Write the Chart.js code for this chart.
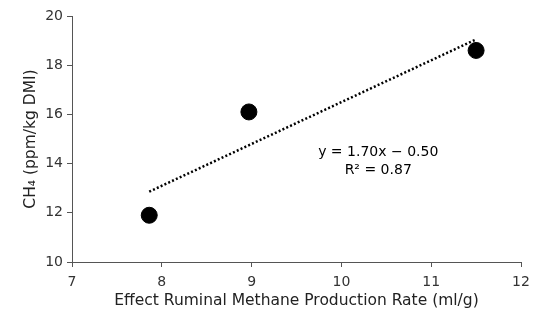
<!DOCTYPE html>
<html><head><meta charset="utf-8">
<script src="https://cdn.jsdelivr.net/npm/chart.js@4/dist/chart.umd.min.js"></script>
<style>html,body{margin:0;padding:0;background:#fff}#wrap{width:550px;height:330px}</style>
</head><body><div id="wrap"><canvas id="c" width="550" height="330"></canvas></div>
<script>
const rateX = [7.86, 8.97, 11.5];
const ch4Y = [11.9, 16.1, 18.6];
const trendX = [7.86, 11.5];
const trendY = [12.86, 19.05];
const xTicks = [7, 8, 9, 10, 11, 12];
const yTicks = [10, 12, 14, 16, 18, 20];
const eqLines = ['y = 1.70x \u2212 0.50', 'R\u00B2 = 0.87'];
const eqAnchor = [10.41, 14.47];

const FONT = 'DejaVu Sans, Verdana, sans-serif';
const eqPlugin = {
  id: 'eq',
  afterDatasetsDraw(chart) {
    const {ctx, scales:{x, y}} = chart;
    const px = x.getPixelForValue(eqAnchor[0]);
    const py = y.getPixelForValue(eqAnchor[1]);
    ctx.save();
    ctx.font = '14px ' + FONT;
    ctx.fillStyle = '#000';
    ctx.textAlign = 'center';
    ctx.textBaseline = 'middle';
    eqLines.forEach((t, i) => ctx.fillText(t, px, py + i * 18));
    ctx.restore();
  }
};

new Chart(document.getElementById('c'), {
  type: 'scatter',
  data: {
    datasets: [
      {
        data: rateX.map((v, i) => ({x: v, y: ch4Y[i]})),
        backgroundColor: '#000', borderColor: '#000',
        pointRadius: 8, pointHoverRadius: 8, order: 1
      },
      {
        type: 'line',
        data: trendX.map((v, i) => ({x: v, y: trendY[i]})),
        borderColor: '#000', borderWidth: 2.5, borderDash: [2, 2.2],
        pointRadius: 0, fill: false, order: 2
      }
    ]
  },
  plugins: [eqPlugin],
  options: {
    responsive: false, animation: false,
    layout: {padding: {top: 16, right: 29, left: 22, bottom: 20}},
    plugins: {legend: {display: false}, tooltip: {enabled: false}},
    scales: {
      x: {
        type: 'linear', min: 7, max: 12,
        afterBuildTicks: s => { s.ticks = xTicks.map(v => ({value: v})); },
        afterFit: s => { s.height = 48; },
        border: {color: '#555', width: 1},
        grid: {drawOnChartArea: false, drawTicks: true, tickLength: 5, color: '#555'},
        ticks: {color: '#333', font: {family: FONT, size: 14}, padding: 7, maxRotation: 0},
        title: {display: true, text: 'Effect Ruminal Methane Production Rate (ml/g)', color: '#222',
          font: {family: FONT, size: 15.5}, padding: {top: 0, bottom: 0}}
      },
      y: {
        type: 'linear', min: 10, max: 20,
        afterBuildTicks: s => { s.ticks = yTicks.map(v => ({value: v})); },
        afterFit: s => { s.width = 50; },
        border: {color: '#555', width: 1},
        grid: {drawOnChartArea: false, drawTicks: true, tickLength: 5, color: '#555'},
        ticks: {color: '#333', font: {family: FONT, size: 14}, padding: 4},
        title: {display: true, text: 'CH\u2084 (ppm/kg DMI)', color: '#222',
          font: {family: FONT, size: 15.5}, padding: {top: 0, bottom: 0}}
      }
    }
  }
});
</script></body></html>
